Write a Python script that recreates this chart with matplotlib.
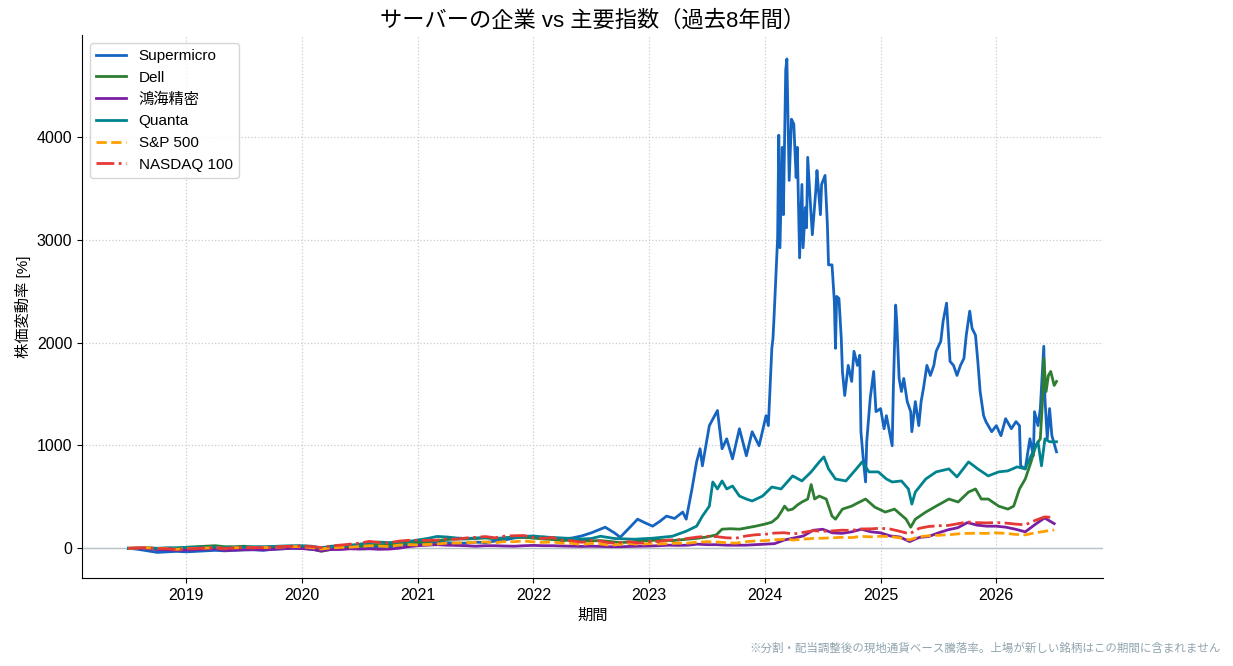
import numpy as np
import matplotlib
matplotlib.use("Agg")
import matplotlib.pyplot as plt

plt.rcParams['font.family'] = ['Liberation Sans', 'Noto Sans CJK JP', 'DejaVu Sans']

# Monthly grid, 2018-07 .. 2026-07 (decimal years)
months = 2018.5 + np.arange(97) / 12

sp500 = [0, 4, 4, -3, -1, -10,
         -3, 0, 2, 6, -1, 5, 7, 5, 7, 9, 13, 16,
         16, 6, -7, 4, 9, 11, 17, 25, 21, 17, 30, 35,
         33, 37, 42, 50, 51, 54, 58, 62, 54, 65, 64, 71,
         62, 57, 62, 48, 48, 36, 48, 42, 29, 39, 46, 38,
         46, 42, 47, 49, 50, 60, 64, 62, 54, 50, 64, 71,
         74, 83, 88, 80, 89, 96, 98, 102, 106, 104, 116, 111,
         117, 114, 101, 82, 112, 122, 127, 131, 140, 145, 146, 145,
         150, 145, 135, 130, 150, 165, 178]

nasdaq100 = [0, 5, 5, -4, -4, -13,
             -5, -2, 2, 7, -2, 5, 8, 6, 7, 11, 16, 20,
             24, 16, 7, 22, 31, 40, 50, 67, 57, 52, 69, 77,
             78, 77, 80, 91, 88, 100, 106, 114, 102, 118, 122, 124,
             105, 96, 104, 77, 74, 58, 78, 69, 51, 57, 64, 50,
             66, 66, 81, 82, 96, 109, 117, 113, 102, 98, 119, 131,
             136, 148, 151, 140, 155, 171, 166, 169, 176, 174, 188, 189,
             195, 187, 165, 140, 194, 212, 219, 222, 239, 256, 249, 247,
             250, 245, 235, 228, 270, 305, 300]

honhai = [0, -2, -5, -12, -15, -20,
          -18, -12, -10, -5, -20, -18, -15, -13, -15, -10, -5, 0,
          -3, -10, -25, -12, -12, -5, -8, -5, -10, -8, 0, 15,
          25, 30, 35, 30, 28, 25, 20, 25, 25, 22, 20, 25,
          28, 25, 25, 22, 20, 18, 20, 18, 15, 15, 18, 20,
          22, 25, 30, 28, 30, 40, 35, 35, 30, 30, 30, 35,
          40, 45, 80, 100, 120, 175, 185, 150, 145, 160, 185, 160,
          150, 120, 110, 65, 105, 115, 150, 180, 200, 250, 225, 215,
          215, 205, 185, 160, 230, 295, 240]

# Supermicro: monthly until mid-2022, then denser readings
smci_early = [0, -10, -25, -40, -35, -30,
              -35, -30, -25, -20, -25, -20, -15, -15, -20, -10, -5, 0,
              0, -10, -20, -5, 5, 10, 20, 15, 10, 15, 25, 30,
              40, 45, 60, 55, 50, 50, 60, 55, 70, 80, 100, 110,
              100, 110, 100, 90, 100, 120, 150]
smci_t_late = [2022.58, 2022.62, 2022.70, 2022.75, 2022.83, 2022.90, 2022.96,
               2023.03, 2023.09, 2023.15, 2023.22, 2023.29, 2023.32, 2023.37,
               2023.41, 2023.44, 2023.46, 2023.52, 2023.59, 2023.63, 2023.67,
               2023.72, 2023.78, 2023.84, 2023.89, 2023.95, 2024.01, 2024.03,
               2024.06, 2024.07, 2024.08, 2024.11, 2024.12, 2024.13, 2024.15,
               2024.16, 2024.18, 2024.19, 2024.21, 2024.23, 2024.25, 2024.27,
               2024.28, 2024.30, 2024.32, 2024.33, 2024.35, 2024.36, 2024.37,
               2024.39, 2024.41, 2024.44, 2024.45, 2024.48, 2024.49, 2024.52,
               2024.54, 2024.55, 2024.58, 2024.60, 2024.61, 2024.62, 2024.64,
               2024.66, 2024.67, 2024.69, 2024.72, 2024.75, 2024.77, 2024.80,
               2024.82, 2024.83, 2024.85, 2024.87, 2024.88, 2024.91, 2024.94,
               2024.96, 2025.00, 2025.03, 2025.05, 2025.10, 2025.11, 2025.13,
               2025.14, 2025.16, 2025.18, 2025.20, 2025.23, 2025.26, 2025.27,
               2025.30, 2025.33, 2025.35, 2025.37, 2025.40, 2025.43, 2025.46,
               2025.48, 2025.52, 2025.54, 2025.57, 2025.60, 2025.63, 2025.66,
               2025.69, 2025.72, 2025.74, 2025.77, 2025.79, 2025.82, 2025.84,
               2025.86, 2025.89, 2025.91, 2025.96, 2026.00, 2026.04, 2026.08,
               2026.13, 2026.17, 2026.20, 2026.21, 2026.25, 2026.29, 2026.32,
               2026.33, 2026.36, 2026.38, 2026.41, 2026.42, 2026.44, 2026.46,
               2026.48, 2026.52]
smci_late = [186, 205, 150, 107, 200, 283, 250,
             215, 260, 313, 290, 352, 283, 577,
             840, 968, 802, 1193, 1340, 968, 1065,
             870, 1163, 900, 1134, 997, 1290, 1193,
             1945, 2043, 2268, 3020, 4018, 2923, 3900,
             3245, 4653, 4760, 3578, 4174, 4125, 3607,
             3900, 2825, 3539, 2923, 3314, 3118, 3803,
             3412, 3050, 3480, 3675, 3245, 3539, 3627,
             3148, 2757, 2757, 2405, 1945, 2450, 2430,
             2043, 1720, 1486, 1779, 1623, 1916, 1779,
             1877, 1134, 870, 645, 1036, 1456, 1720,
             1329, 1359, 1163, 1290, 997, 1554, 2366,
             2190, 1652, 1525, 1652, 1427, 1329, 1134,
             1427, 1193, 1427, 1554, 1779, 1681, 1779,
             1916, 2014, 2209, 2385, 1818, 1779, 1681,
             1779, 1847, 2072, 2307, 2141, 2072, 1818,
             1525, 1290, 1232, 1134, 1193, 1095, 1261,
             1163, 1232, 1193, 802, 772, 1065, 900,
             1329, 1193, 1359, 1965, 1456, 1065, 1359,
             1095, 938]

# Dell: listed from 2018-12
dell_early = [0,
              10, 15, 20, 25, 15, 15, 20, 10, 10, 15, 15, 10,
              5, -5, -30, -10, 0, 5, 20, 30, 35, 35, 45, 55,
              60, 65, 75, 85, 90, 90, 95, 100, 95, 100, 110, 105,
              100, 90, 85, 75, 80, 70]
dell_t_late = [2022.58, 2022.67, 2022.75, 2022.83, 2022.92, 2023.00, 2023.10,
               2023.20, 2023.30, 2023.40, 2023.50, 2023.58, 2023.63, 2023.70,
               2023.78, 2023.85, 2023.92, 2024.00, 2024.06, 2024.11, 2024.14,
               2024.17, 2024.20, 2024.24, 2024.28, 2024.32, 2024.37, 2024.40,
               2024.43, 2024.47, 2024.53, 2024.58, 2024.61, 2024.67, 2024.75,
               2024.80, 2024.87, 2024.95, 2025.04, 2025.12, 2025.22, 2025.26,
               2025.30, 2025.39, 2025.48, 2025.59, 2025.67, 2025.76, 2025.82,
               2025.87, 2025.93, 2026.02, 2026.10, 2026.15, 2026.20, 2026.25,
               2026.30, 2026.34, 2026.38, 2026.40, 2026.41, 2026.43, 2026.45,
               2026.47, 2026.50, 2026.52]
dell_late = [75, 65, 55, 60, 70, 75, 80,
             75, 85, 95, 110, 130, 186, 190,
             186, 200, 215, 235, 254, 300, 352,
             410, 370, 381, 420, 450, 479, 620,
             479, 508, 479, 313, 283, 381, 410,
             440, 479, 400, 352, 381, 283, 205,
             283, 352, 410, 479, 450, 547, 577,
             479, 479, 410, 381, 410, 577, 674,
             840, 997, 1065, 1456, 1847, 1525, 1681,
             1720, 1584, 1623]

quanta_early = [0, 3, 5, 0, 5, 5,
                8, 10, 10, 12, 8, 10, 12, 15, 15, 18, 22, 25,
                25, 20, 5, 20, 25, 30, 40, 55, 60, 55, 60, 65,
                80, 95, 115, 110, 100, 95, 100, 105, 95, 100, 110, 115,
                120, 110, 105, 100, 95, 90, 95]
quanta_t_late = [2022.58, 2022.70, 2022.87, 2023.03, 2023.20, 2023.32, 2023.41,
                 2023.46, 2023.52, 2023.55, 2023.59, 2023.63, 2023.67, 2023.72,
                 2023.78, 2023.84, 2023.89, 2023.98, 2024.06, 2024.14, 2024.24,
                 2024.32, 2024.40, 2024.47, 2024.51, 2024.55, 2024.61, 2024.70,
                 2024.79, 2024.84, 2024.90, 2024.98, 2025.05, 2025.10, 2025.18,
                 2025.24, 2025.27, 2025.30, 2025.39, 2025.48, 2025.59, 2025.66,
                 2025.76, 2025.84, 2025.93, 2026.02, 2026.10, 2026.18, 2026.25,
                 2026.30, 2026.36, 2026.39, 2026.42, 2026.46, 2026.52]
quanta_late = [117, 95, 88, 98, 117, 166, 215,
               313, 410, 645, 577, 655, 577, 606,
               508, 479, 460, 508, 596, 577, 704,
               655, 743, 840, 889, 772, 674, 655,
               772, 840, 743, 743, 674, 645, 655,
               577, 430, 547, 674, 743, 772, 694,
               840, 772, 704, 743, 753, 792, 772,
               900, 1036, 802, 1065, 1036, 1036]

smci_t = np.concatenate([months[:len(smci_early)], smci_t_late])
smci = np.concatenate([smci_early, smci_late])
dell_t = np.concatenate([months[5:5 + len(dell_early)], dell_t_late])
dell = np.concatenate([dell_early, dell_late])
quanta_t = np.concatenate([months[:len(quanta_early)], quanta_t_late])
quanta = np.concatenate([quanta_early, quanta_late])

fig = plt.figure(figsize=(12.33, 6.66), dpi=100)
ax = fig.add_axes([0.0665, 0.132, 0.828, 0.815])

ax.plot(smci_t, smci, color='#1565C0', lw=2, label='Supermicro')
ax.plot(dell_t, dell, color='#2E7D32', lw=2, label='Dell')
ax.plot(months, honhai, color='#7B1FA2', lw=2, label='鴻海精密')
ax.plot(quanta_t, quanta, color='#00838F', lw=2, label='Quanta')
ax.plot(months, sp500, color='#FFA000', lw=2, ls='--', label='S&P 500')
ax.plot(months, nasdaq100, color='#E53935', lw=2, ls='-.', label='NASDAQ 100')
ax.axhline(0, color='#B0BEC5', lw=1, zorder=0)

ax.set_ylim(-290, 4990)
ax.set_xticks(range(2019, 2027))
ax.set_xticklabels([str(y) for y in range(2019, 2027)])
ax.tick_params(labelsize=11.5)
ax.grid(True, ls=':', color='#cccccc', lw=0.9)
ax.spines['top'].set_visible(False)
ax.spines['right'].set_visible(False)

ax.set_title('サーバーの企業 vs 主要指数（過去8年間）', fontsize=16)
ax.set_xlabel('期間', fontsize=11)
ax.set_ylabel('株価変動率 [%]', fontsize=11)
ax.legend(loc='upper left', fontsize=11)

fig.text(0.99, 0.018, '※分割・配当調整後の現地通貨ベース騰落率。上場が新しい銘柄はこの期間に含まれません',
         ha='right', va='bottom', fontsize=8.25, color='#90A4AE')

fig.savefig('out.png', dpi=100)
